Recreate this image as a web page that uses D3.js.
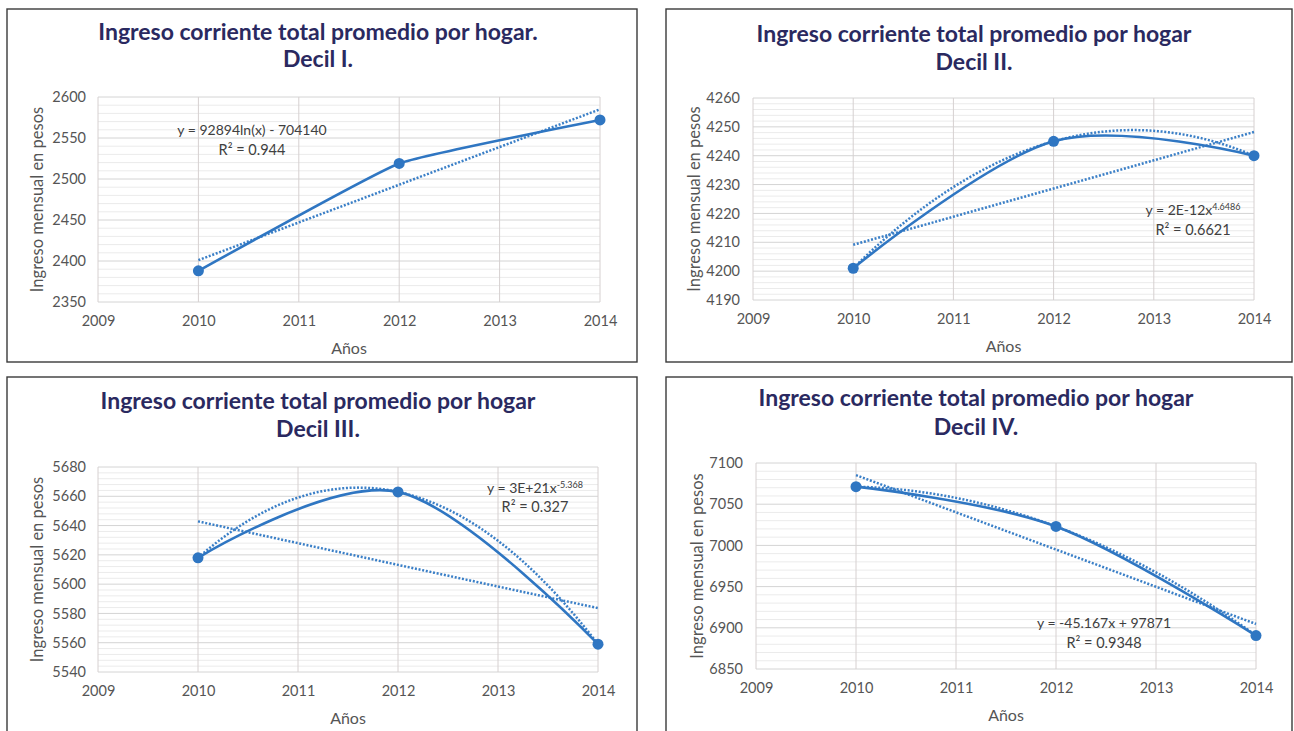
<!DOCTYPE html>
<html>
<head>
<meta charset="utf-8">
<script src="https://cdn.jsdelivr.net/npm/d3@7/dist/d3.min.js"></script>
<style>
  html, body { margin: 0; padding: 0; background: #ffffff; }
  svg { display: block; }
  text { font-family: Lato, "Open Sans", sans-serif; }
</style>
</head>
<body>
<svg id="chart" width="1294" height="731"></svg>
<script>
// ---------------- DATA ----------------
const years = [2010, 2012, 2014];
const decilI   = [2388, 2519, 2572];
const decilII  = [4201, 4245, 4240];
const decilIII = [5618, 5663, 5559];
const decilIV  = [7071.3, 7023, 6890.6];

const xTickLabels = [2009, 2010, 2011, 2012, 2013, 2014];
const yTicksI   = [2350, 2400, 2450, 2500, 2550, 2600];
const yTicksII  = [4190, 4200, 4210, 4220, 4230, 4240, 4250, 4260];
const yTicksIII = [5540, 5560, 5580, 5600, 5620, 5640, 5660, 5680];
const yTicksIV  = [6850, 6900, 6950, 7000, 7050, 7100];

const titleLine1 = ["Ingreso corriente total promedio por hogar.",
                    "Ingreso corriente total promedio por hogar",
                    "Ingreso corriente total promedio por hogar",
                    "Ingreso corriente total promedio por hogar"];
const titleLine2 = ["Decil I.", "Decil II.", "Decil III.", "Decil IV."];
const equations = ["y = 92894ln(x) - 704140", "y = 2E-12x", "y = 3E+21x", "y = -45.167x + 97871"];
const eqExponents = [null, "4.6486", "-5.368", null];
const rSquared = ["R² = 0.944", "R² = 0.6621", "R² = 0.327", "R² = 0.9348"];
const trendTypes = [["log"], ["power", "poly2"], ["power", "poly2"], ["linear", "poly2"]];
const xAxisTitle = "Años";
const yAxisTitle = "Ingreso mensual en pesos";

// ---------------- LAYOUT ----------------
const series = [decilI, decilII, decilIII, decilIV];
const yTicksAll = [yTicksI, yTicksII, yTicksIII, yTicksIV];
const layout = [
  { box: [7, 9, 637, 362],   plot: [98, 97, 600, 302],   tcx: 318, t1: 40, t2: 67,  eq: [252, 135, 155], ylabX: 86,  ytitX: 37, tension: 0.65 },
  { box: [666, 9, 1292, 362], plot: [753, 98, 1254, 300], tcx: 974, t1: 42, t2: 70,  eq: [1193, 215, 235], ylabX: 740, ytitX: 694, tension: 0 },
  { box: [7, 377, 637, 740], plot: [98, 467, 598, 672],  tcx: 318, t1: 409, t2: 437, eq: [535, 493, 512], ylabX: 86, ytitX: 37, tension: 0 },
  { box: [666, 377, 1292, 740], plot: [756, 463, 1256, 669], tcx: 976, t1: 406, t2: 435, eq: [1104, 628, 648], ylabX: 743, ytitX: 697, tension: 0 }
];

const BLUE = "#2f76c2";
const svg = d3.select("#chart");

// ---------------- FITS (least squares from data) ----------------
function linFit(xs, ys) {
  const n = xs.length, mx = d3.mean(xs), my = d3.mean(ys);
  let sxy = 0, sxx = 0;
  for (let i = 0; i < n; i++) { sxy += (xs[i]-mx)*(ys[i]-my); sxx += (xs[i]-mx)**2; }
  const b = sxy / sxx; return { a: my - b*mx, b };
}
function solve3(A, v) {
  const M = A.map((r, i) => [...r, v[i]]);
  for (let c = 0; c < 3; c++) {
    let p = c; for (let r = c+1; r < 3; r++) if (Math.abs(M[r][c]) > Math.abs(M[p][c])) p = r;
    [M[c], M[p]] = [M[p], M[c]];
    for (let r = 0; r < 3; r++) if (r !== c) {
      const f = M[r][c] / M[c][c];
      for (let k = c; k < 4; k++) M[r][k] -= f * M[c][k];
    }
  }
  return M.map((r, i) => r[3] / r[i]);
}
function makeTrend(type, xs, ys) {
  if (type === "linear") { const f = linFit(xs, ys); return x => f.a + f.b*x; }
  if (type === "log") { const f = linFit(xs.map(Math.log), ys); return x => f.a + f.b*Math.log(x); }
  if (type === "power") { const f = linFit(xs.map(Math.log), ys.map(Math.log)); return x => Math.exp(f.a + f.b*Math.log(x)); }
  if (type === "poly2") {
    const x0 = d3.mean(xs), ts = xs.map(x => x - x0);
    const S = k => d3.sum(ts, t => t**k), T = k => d3.sum(ts, (t, i) => t**k * ys[i]);
    const c = solve3([[S(0), S(1), S(2)], [S(1), S(2), S(3)], [S(2), S(3), S(4)]], [T(0), T(1), T(2)]);
    return x => c[0] + c[1]*(x-x0) + c[2]*(x-x0)**2;
  }
}

// ---------------- DRAW ----------------
series.forEach((vals, pi) => {
  const L = layout[pi];
  const yTicks = yTicksAll[pi];
  const g = svg.append("g");

  g.append("rect").attr("x", L.box[0]).attr("y", L.box[1])
    .attr("width", L.box[2]-L.box[0]).attr("height", L.box[3]-L.box[1])
    .attr("fill", "#fff").attr("stroke", "#3a3a3a").attr("stroke-width", 1.4);

  const x = d3.scaleLinear().domain(d3.extent(xTickLabels)).range([L.plot[0], L.plot[2]]);
  const y = d3.scaleLinear().domain(d3.extent(yTicks)).range([L.plot[3], L.plot[1]]);

  // minor horizontal grid
  const step = yTicks[1] - yTicks[0];
  const minors = [];
  yTicks.slice(0, -1).forEach(t => { for (let k = 1; k < 5; k++) minors.push(t + step*k/5); });
  g.append("g").selectAll("line").data(minors).join("line")
    .attr("x1", L.plot[0]).attr("x2", L.plot[2])
    .attr("y1", d => y(d)).attr("y2", d => y(d))
    .attr("stroke", "#ebebeb").attr("stroke-width", 1);

  // major horizontal grid
  g.append("g").selectAll("line").data(yTicks).join("line")
    .attr("x1", L.plot[0]).attr("x2", L.plot[2])
    .attr("y1", d => y(d)).attr("y2", d => y(d))
    .attr("stroke", "#d4d4d4").attr("stroke-width", 1);

  // vertical grid
  g.append("g").selectAll("line").data(xTickLabels).join("line")
    .attr("x1", d => x(d)).attr("x2", d => x(d))
    .attr("y1", L.plot[1]).attr("y2", L.plot[3])
    .attr("stroke", "#d6d0d0").attr("stroke-width", 1);

  // axes labels via d3 axes
  const yAxis = d3.axisLeft(y).tickValues(yTicks).tickSize(0).tickPadding(0).tickFormat(d3.format("d"));
  const ya = g.append("g").attr("transform", `translate(${L.ylabX},0)`).call(yAxis);
  ya.select(".domain").remove();
  ya.selectAll("text").attr("font-family", "Lato").attr("font-size", 14.5).attr("fill", "#555555");

  const xAxis = d3.axisBottom(x).tickValues(xTickLabels).tickSize(0).tickPadding(0).tickFormat(d3.format("d"));
  const xa = g.append("g").attr("transform", `translate(0,${L.plot[3] + 14})`).call(xAxis);
  xa.select(".domain").remove();
  xa.selectAll("text").attr("font-family", "Lato").attr("font-size", 14.5).attr("fill", "#555555");

  // axis titles
  g.append("text").attr("x", (L.plot[0]+L.plot[2])/2).attr("y", L.plot[3] + 52)
    .attr("text-anchor", "middle").attr("font-size", 16).attr("fill", "#555555").text(xAxisTitle);
  g.append("text").attr("transform", `translate(${L.ytitX + 6},${(L.plot[1]+L.plot[3])/2}) rotate(-90)`)
    .attr("text-anchor", "middle").attr("font-size", 16.5).attr("fill", "#555555").text(yAxisTitle);

  // titles
  g.append("text").attr("x", L.tcx).attr("y", L.t1).attr("text-anchor", "middle")
    .attr("font-size", 23).attr("font-weight", 700).attr("fill", "#2a2960").text(titleLine1[pi]);
  g.append("text").attr("x", L.tcx).attr("y", L.t2).attr("text-anchor", "middle")
    .attr("font-size", 23).attr("font-weight", 700).attr("fill", "#2a2960").text(titleLine2[pi]);

  // trendlines
  const pts = years.map((yr, i) => [yr, vals[i]]);
  const fine = d3.range(0, 101).map(k => years[0] + (years[years.length-1]-years[0])*k/100);
  trendTypes[pi].forEach(tt => {
    const f = makeTrend(tt, years, vals);
    g.append("path").datum(fine.map(xx => [xx, f(xx)]))
      .attr("d", d3.line().x(d => x(d[0])).y(d => y(d[1])))
      .attr("fill", "none").attr("stroke", "#3a7fc7").attr("stroke-width", 2.5)
      .attr("stroke-dasharray", "2,1.7");
  });

  // smoothed data line
  g.append("path").datum(pts)
    .attr("d", d3.line().x(d => x(d[0])).y(d => y(d[1])).curve(d3.curveCardinal.tension(L.tension)))
    .attr("fill", "none").attr("stroke", BLUE).attr("stroke-width", 2.6);

  g.append("g").selectAll("circle").data(pts).join("circle")
    .attr("cx", d => x(d[0])).attr("cy", d => y(d[1])).attr("r", 5.5).attr("fill", BLUE);

  // equation labels
  const eq = g.append("text").attr("x", L.eq[0]).attr("y", L.eq[1]).attr("text-anchor", "middle")
    .attr("font-size", 14).attr("fill", "#404040");
  eq.append("tspan").text(equations[pi]);
  if (eqExponents[pi]) eq.append("tspan").attr("dy", -5).attr("font-size", 9).text(eqExponents[pi]);
  g.append("text").attr("x", L.eq[0]).attr("y", L.eq[2]).attr("text-anchor", "middle")
    .attr("font-size", 14.5).attr("fill", "#404040").text(rSquared[pi]);
});
</script>
</body>
</html>
